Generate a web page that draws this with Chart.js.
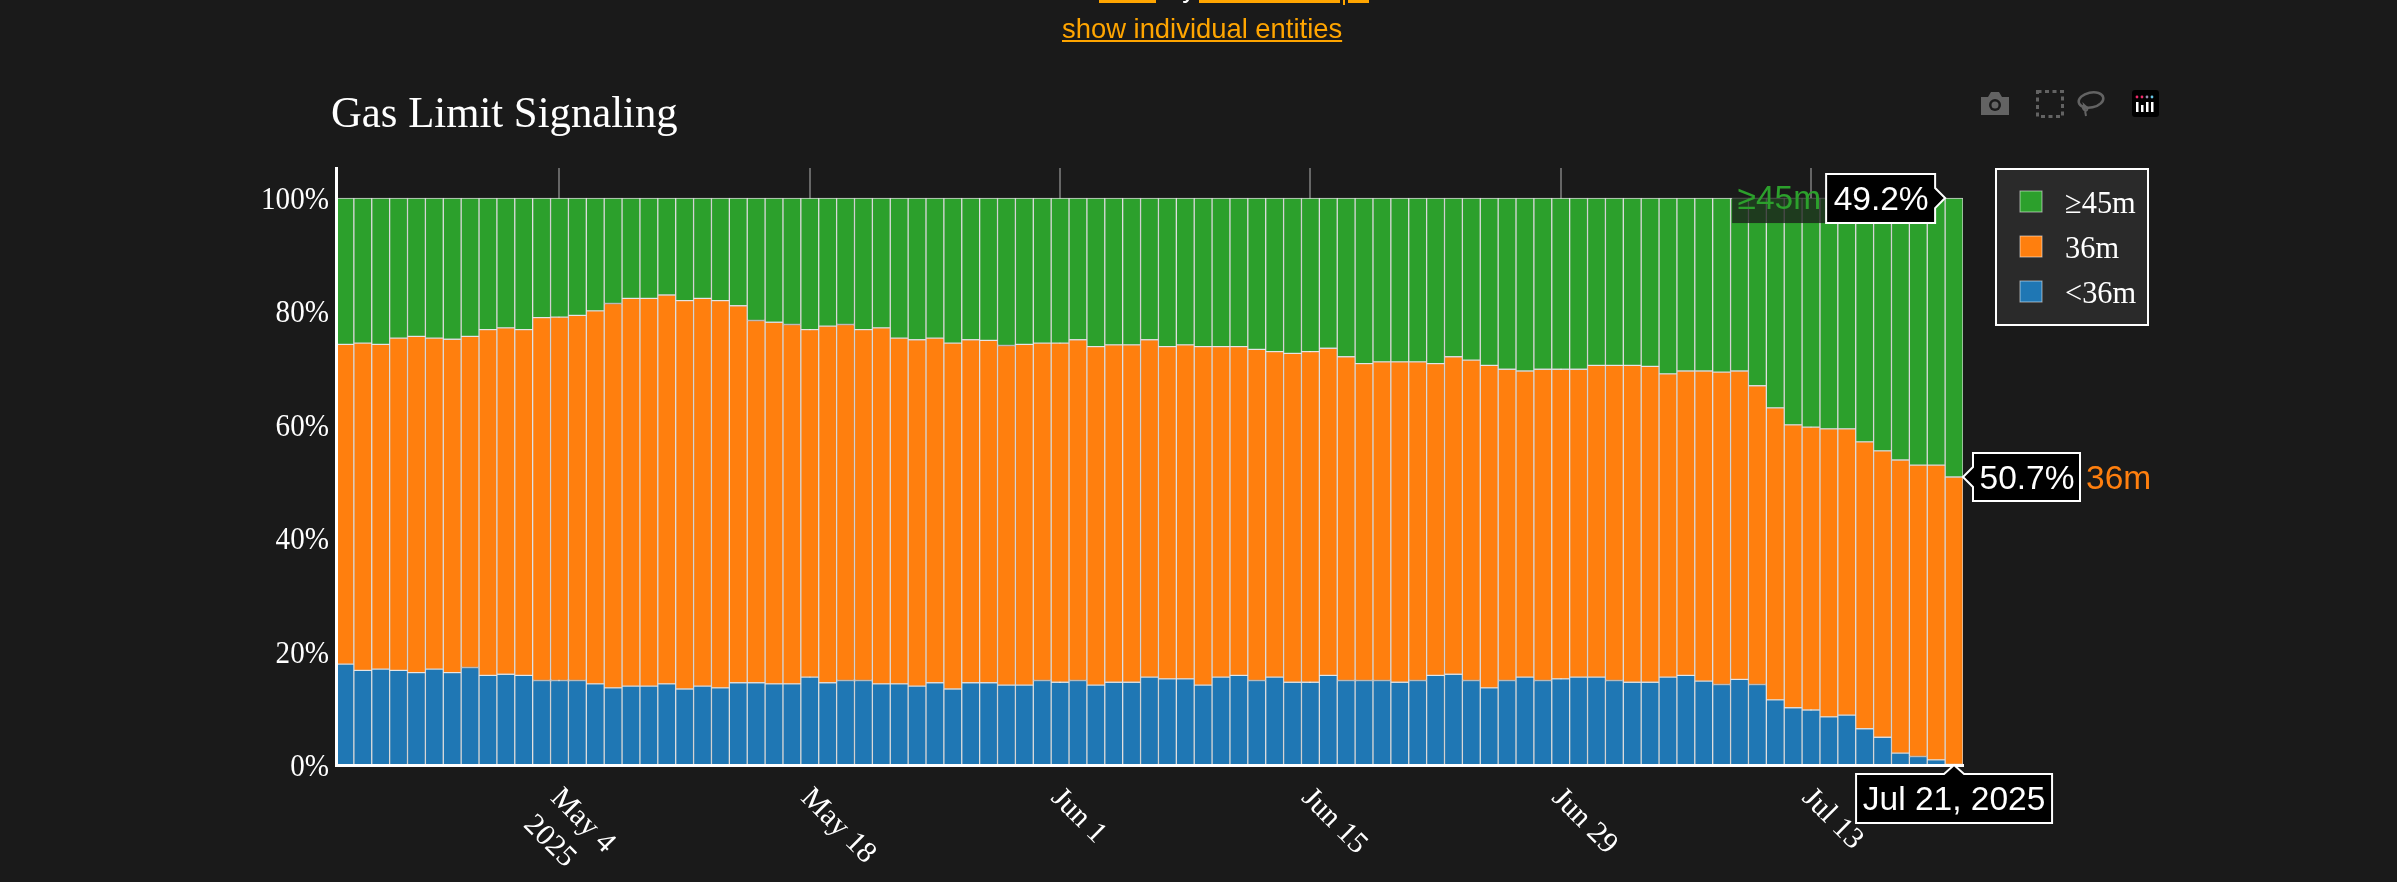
<!DOCTYPE html>
<html>
<head>
<meta charset="utf-8">
<title>Gas Limit Signaling</title>
<script src="https://cdn.jsdelivr.net/npm/chart.js@4"></script>
<style>
  html, body { margin: 0; background: #1a1a1a; overflow: hidden; width: 2397px; height: 882px; }
  canvas { position: absolute; left: 0; top: 0; }
  .link { position: absolute; font: 27.4px/30px "Liberation Sans", Arial, sans-serif; color: #ffa500; text-decoration: underline; white-space: nowrap; }
  .bar { position: absolute; background: #ffa500; height: 3px; top: 0; }
  svg { position: absolute; left: 0; top: 0; }
</style>
</head>
<body>
<canvas id="gasChart" width="2397" height="882"></canvas>

<!-- the line above the chart is cut off by the top of the page -->
<div class="bar" style="left:1099px;width:57px"></div>
<div class="bar" style="left:1199px;width:141px"></div>
<div class="bar" style="left:1343px;width:2px;height:5px"></div>
<div class="bar" style="left:1348px;width:21px"></div>
<div class="link" style="left:1167px;top:-27px;color:#fff;text-decoration:none">by</div>
<div class="link" style="left:1062px;top:14px">show individual entities</div>

<!-- modebar icons -->
<svg width="2397" height="140" fill="none">
  <path d="M1981 97h7l3-5h8l3 5h7v18h-28z" fill="#636363"/>
  <circle cx="1995" cy="105" r="6" fill="#1a1a1a"/>
  <circle cx="1995" cy="105" r="3.5" fill="#636363"/>
  <rect x="2037.5" y="91.5" width="25" height="25" stroke="#636363" stroke-width="3" stroke-dasharray="4 3.5"/>
  <ellipse cx="2091" cy="100" rx="12.5" ry="7.5" stroke="#636363" stroke-width="2.5" transform="rotate(-12 2091 100)"/>
  <path d="M2084 105c-3 3 1 7 3 5c2-2-2-4-3-5l2 11" stroke="#636363" stroke-width="2"/>
  <rect x="2132" y="90" width="27" height="27" rx="3" fill="#000"/>
  <g fill="#fff">
    <rect x="2136" y="102" width="2.5" height="10"/><rect x="2141" y="105" width="2.5" height="7"/>
    <rect x="2146" y="102" width="2.5" height="10"/><rect x="2151" y="102" width="2.5" height="10"/>
  </g>
  <circle cx="2137" cy="97" r="1.4" fill="#ef2a6b"/><circle cx="2142" cy="97" r="1.4" fill="#ef2a6b"/>
  <circle cx="2147" cy="97" r="1.4" fill="#9a8fb0"/><circle cx="2152" cy="97" r="1.4" fill="#68c8e8"/>
</svg>

<script>
const dates = [
  'Apr 22','Apr 23','Apr 24','Apr 25','Apr 26','Apr 27','Apr 28','Apr 29','Apr 30',
  'May 1','May 2','May 3','May 4','May 5','May 6','May 7','May 8','May 9','May 10','May 11',
  'May 12','May 13','May 14','May 15','May 16','May 17','May 18','May 19','May 20','May 21',
  'May 22','May 23','May 24','May 25','May 26','May 27','May 28','May 29','May 30','May 31',
  'Jun 1','Jun 2','Jun 3','Jun 4','Jun 5','Jun 6','Jun 7','Jun 8','Jun 9','Jun 10',
  'Jun 11','Jun 12','Jun 13','Jun 14','Jun 15','Jun 16','Jun 17','Jun 18','Jun 19','Jun 20',
  'Jun 21','Jun 22','Jun 23','Jun 24','Jun 25','Jun 26','Jun 27','Jun 28','Jun 29','Jun 30',
  'Jul 1','Jul 2','Jul 3','Jul 4','Jul 5','Jul 6','Jul 7','Jul 8','Jul 9','Jul 10',
  'Jul 11','Jul 12','Jul 13','Jul 14','Jul 15','Jul 16','Jul 17','Jul 18','Jul 19','Jul 20','Jul 21'
];

const below36 = [
  17.8,16.7,16.9,16.7,16.3,16.9,16.3,17.2,15.8,16.0,15.8,14.9,14.9,14.9,14.3,13.6,13.9,13.9,14.3,13.4,
  13.9,13.6,14.5,14.5,14.3,14.3,15.5,14.5,14.9,14.9,14.3,14.3,13.9,14.5,13.4,14.5,14.5,14.1,14.1,14.9,
  14.6,14.9,14.1,14.6,14.6,15.5,15.2,15.2,14.1,15.5,15.8,14.9,15.5,14.6,14.6,15.8,14.9,14.9,14.9,14.6,
  14.9,15.8,16.0,14.9,13.6,14.9,15.5,14.9,15.2,15.5,15.5,14.9,14.6,14.6,15.5,15.8,14.8,14.2,15.1,14.2,
  11.5,10.1,9.7,8.5,8.8,6.4,4.9,2.1,1.5,0.9,0.1
];
const at36 = [
  56.4,57.7,57.3,58.6,59.3,58.4,58.8,58.4,61.0,61.1,61.0,64.0,64.1,64.4,65.8,67.8,68.4,68.4,68.6,68.5,
  68.4,68.3,66.5,63.9,63.8,63.4,61.3,62.9,62.8,61.9,62.8,61.0,61.1,60.8,61.0,60.5,60.4,59.9,60.1,59.5,
  59.8,60.1,59.7,59.5,59.5,59.5,58.6,58.9,59.7,58.3,58.0,58.4,57.4,58.0,58.3,57.7,57.1,55.9,56.2,56.5,
  56.2,55.0,56.0,56.5,56.9,54.9,54.0,54.9,54.6,54.3,55.0,55.6,55.9,55.7,53.5,53.7,54.7,55.1,54.4,52.7,
  51.5,49.9,49.9,50.8,50.5,50.6,50.5,51.7,51.4,52.0,50.7
];
const atLeast45 = [
  25.8,25.6,25.8,24.7,24.4,24.7,24.9,24.4,23.2,22.9,23.2,21.1,21.0,20.7,19.9,18.6,17.7,17.7,17.1,18.1,
  17.7,18.1,19.0,21.6,21.9,22.3,23.2,22.6,22.3,23.2,22.9,24.7,25.0,24.7,25.6,25.0,25.1,26.0,25.8,25.6,
  25.6,25.0,26.2,25.9,25.9,25.0,26.2,25.9,26.2,26.2,26.2,26.7,27.1,27.4,27.1,26.5,28.0,29.2,28.9,28.9,
  28.9,29.2,28.0,28.6,29.5,30.2,30.5,30.2,30.2,30.2,29.5,29.5,29.5,29.7,31.0,30.5,30.5,30.7,30.5,33.1,
  37.0,40.0,40.4,40.7,40.7,43.0,44.6,46.2,47.1,47.1,49.2
];

const seriesNames = ['<36m', '36m', '≥45m'];
const seriesColors = ['#1f77b4', '#ff7f0e', '#2ca02c'];
const xTickLabels = [['May 4', '2025'], ['May 18'], ['Jun 1'], ['Jun 15'], ['Jun 29'], ['Jul 13']];
const yTicks = [0, 20, 40, 60, 80, 100];
const hoverDate = 'Jul 21, 2025';

const SERIF = '"Liberation Serif", "Times New Roman", serif';
const SANS = '"Liberation Sans", Arial, sans-serif';

// the serif labels in the reference are a bit narrow for their height
function narrowText(ctx, text, x, y, squeeze) {
  ctx.save();
  ctx.translate(x, y);
  ctx.scale(squeeze, 1);
  ctx.fillText(text, 0, 0);
  ctx.restore();
}

// plotly style hover label: black box, white edge, small arrow towards the bar
function hoverBox(ctx, x, y, w, h, tipX, tipY, side) {
  ctx.beginPath();
  ctx.moveTo(x, y);
  if (side === 'top') {
    ctx.lineTo(tipX - 10, y); ctx.lineTo(tipX, tipY); ctx.lineTo(tipX + 10, y);
  }
  ctx.lineTo(x + w, y);
  if (side === 'right') {
    ctx.lineTo(x + w, tipY - 10); ctx.lineTo(tipX, tipY); ctx.lineTo(x + w, tipY + 10);
  }
  ctx.lineTo(x + w, y + h);
  ctx.lineTo(x, y + h);
  if (side === 'left') {
    ctx.lineTo(x, tipY + 10); ctx.lineTo(tipX, tipY); ctx.lineTo(x, tipY - 10);
  }
  ctx.closePath();
  ctx.fillStyle = '#000';
  ctx.fill();
  ctx.strokeStyle = '#fff';
  ctx.lineWidth = 2;
  ctx.stroke();
}

const decorations = {
  id: 'decorations',
  afterDraw(chart) {
    const ctx = chart.ctx;
    const xScale = chart.scales.x;
    const yScale = chart.scales.y;
    const last = dates.length - 1;
    ctx.save();
    ctx.textBaseline = 'alphabetic';

    // title
    ctx.fillStyle = '#fff';
    ctx.textAlign = 'left';
    ctx.font = '45px ' + SERIF;
    narrowText(ctx, 'Gas Limit Signaling', 331, 127, 0.95);

    // y tick labels
    ctx.font = '32px ' + SERIF;
    ctx.textAlign = 'right';
    yScale.ticks.forEach(tick => {
      narrowText(ctx, tick.value + '%', 329, yScale.getPixelForValue(tick.value) + 11, 0.91);
    });

    // x tick labels run down to the right, chart.js only anchors them the other way
    ctx.textAlign = 'left';
    ctx.font = '30px ' + SERIF;
    xScale.ticks.forEach((tick, i) => {
      ctx.save();
      ctx.translate(xScale.getPixelForTick(i) - 10, xScale.top + 34);
      ctx.rotate(Math.PI / 4);
      xTickLabels[i].forEach((line, n) => ctx.fillText(line, 0, n * 38));
      ctx.restore();
    });

    // legend
    ctx.fillStyle = '#2a2a2a';
    ctx.fillRect(1996, 169, 152, 156);
    ctx.strokeStyle = '#fff';
    ctx.lineWidth = 2;
    ctx.strokeRect(1996, 169, 152, 156);
    ctx.font = '32px ' + SERIF;
    [2, 1, 0].forEach((s, row) => {
      const top = 191 + row * 45;
      ctx.fillStyle = seriesColors[s];
      ctx.fillRect(2020, top, 22, 21);
      ctx.strokeStyle = 'rgba(255,255,255,0.55)';
      ctx.lineWidth = 1;
      ctx.strokeRect(2020, top, 22, 21);
      ctx.fillStyle = '#fff';
      narrowText(ctx, seriesNames[s], 2065, top + 22, 0.95);
    });

    // hover labels on the last bar
    const green = chart.getDatasetMeta(2).data[last];
    const orange = chart.getDatasetMeta(1).data[last];
    const barLeft = green.x - green.width / 2;
    const barRight = green.x + green.width / 2;
    ctx.font = '33.5px ' + SANS;

    // ≥45m
    ctx.fillStyle = 'rgba(26,26,26,0.75)';
    ctx.fillRect(barLeft - 213, green.y, 94, 25);
    hoverBox(ctx, barLeft - 119, green.y - 24, 109, 49, barLeft, green.y, 'right');
    ctx.fillStyle = seriesColors[2];
    ctx.textAlign = 'right';
    ctx.fillText(seriesNames[2], barLeft - 124, green.y + 11);
    ctx.fillStyle = '#fff';
    ctx.textAlign = 'center';
    ctx.fillText(atLeast45[last].toFixed(1) + '%', barLeft - 64, green.y + 12);

    // 36m
    hoverBox(ctx, barRight + 10, orange.y - 24, 107, 48, barRight, orange.y, 'left');
    ctx.fillStyle = '#fff';
    ctx.fillText(at36[last].toFixed(1) + '%', barRight + 64, orange.y + 12);
    ctx.fillStyle = seriesColors[1];
    ctx.textAlign = 'left';
    ctx.fillText(seriesNames[1], barRight + 123, orange.y + 12);

    // date under the axis
    hoverBox(ctx, green.x - 98, xScale.top + 9, 196, 49, green.x, xScale.top, 'top');
    ctx.fillStyle = '#fff';
    ctx.textAlign = 'center';
    ctx.fillText(hoverDate, green.x, xScale.top + 45);
    ctx.restore();
  }
};

new Chart(document.getElementById('gasChart'), {
  type: 'bar',
  data: {
    labels: dates,
    datasets: [below36, at36, atLeast45].map((values, s) => ({
      label: seriesNames[s],
      data: values,
      backgroundColor: seriesColors[s],
      borderColor: 'rgba(255,255,255,0.8)',
      borderWidth: 1,
      borderSkipped: false,
      barPercentage: 1,
      categoryPercentage: 1
    }))
  },
  options: {
    responsive: false,
    animation: false,
    layout: { padding: { top: 168, right: 434 } },
    plugins: { legend: { display: false }, tooltip: { enabled: false } },
    scales: {
      x: {
        stacked: true,
        afterFit: s => { s.height = 117; },
        afterBuildTicks: s => {
          const wanted = xTickLabels.map(l => l[0]);
          s.ticks = s.ticks.filter(t => wanted.includes(dates[t.value]));
        },
        ticks: { autoSkip: false, display: false },
        grid: { offset: false, color: '#666', lineWidth: 2, drawTicks: false },
        border: { color: '#fff', width: 3, z: 1 }
      },
      y: {
        stacked: true,
        min: 0,
        max: 105.3,
        afterFit: s => { s.width = 336; },
        afterBuildTicks: s => { s.ticks = yTicks.map(v => ({ value: v })); },
        ticks: { display: false },
        grid: { display: false, drawTicks: false },
        border: { color: '#fff', width: 3, z: 1 }
      }
    }
  },
  plugins: [decorations]
});
</script>
</body>
</html>
